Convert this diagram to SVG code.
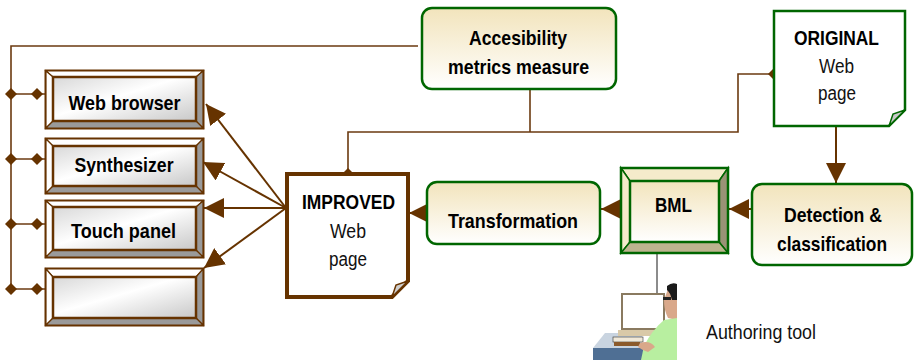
<svg xmlns="http://www.w3.org/2000/svg" width="914" height="360" viewBox="0 0 914 360">
  <defs>
    <linearGradient id="cream" x1="0" y1="0" x2="0" y2="1">
      <stop offset="0" stop-color="#F2E4BC"/>
      <stop offset="1" stop-color="#FFFFFF"/>
    </linearGradient>
    <linearGradient id="silver" x1="0" y1="0" x2="1" y2="1">
      <stop offset="0" stop-color="#D8D8D8"/>
      <stop offset="0.45" stop-color="#FFFFFF"/>
      <stop offset="1" stop-color="#C8C8C8"/>
    </linearGradient>
    <marker id="arrow" viewBox="0 0 20 20" refX="20" refY="10" markerWidth="20" markerHeight="20" markerUnits="userSpaceOnUse" orient="auto">
      <path d="M0,0 L20,10 L0,20 Z" fill="#663300"/>
    </marker>
    <path id="diamond" d="M0,-6 L6,0 L0,6 L-6,0 Z" fill="#663300"/>
  </defs>
  <style>
    .bold { font-family: "Liberation Sans", Arial, sans-serif; font-weight: bold; font-size: 21px; fill: #000; }
    .reg { font-family: "Liberation Sans", Arial, sans-serif; font-size: 20px; fill: #111; }
    .round { fill: url(#cream); stroke: #006600; stroke-width: 2.5; }
    .dev-outer { fill: none; stroke: #663300; stroke-width: 3; }
    .dev-inner { fill: url(#silver); stroke: #663300; stroke-width: 2.5; }
    .bevel-light { fill: #FFFFFF; stroke: #663300; stroke-width: 1.2; }
    .bevel-dark { fill: #9A9A9A; stroke: #663300; stroke-width: 1.2; }
    .wire { fill: none; stroke: #6B3A10; stroke-width: 1.6; }
    .flow { fill: none; stroke: #663300; stroke-width: 2; marker-end: url(#arrow); }
  </style>

  <!-- connectors -->
  <g id="connectors">
    <!-- control bus on the left -->
    <polyline class="wire" points="418,46 11,46 11,289"/>
    <line class="wire" x1="11" y1="94" x2="45" y2="94"/>
    <line class="wire" x1="11" y1="159" x2="45" y2="159"/>
    <line class="wire" x1="11" y1="224" x2="45" y2="224"/>
    <line class="wire" x1="11" y1="289" x2="45" y2="289"/>
    <use href="#diamond" x="11" y="94"/><use href="#diamond" x="37" y="94"/>
    <use href="#diamond" x="11" y="159"/><use href="#diamond" x="37" y="159"/>
    <use href="#diamond" x="11" y="224"/><use href="#diamond" x="37" y="224"/>
    <use href="#diamond" x="11" y="289"/><use href="#diamond" x="37" y="289"/>
    <!-- metrics link between pages -->
    <polyline class="wire" points="348,174 348,132 738,132 738,74 774,74"/>
    <line class="wire" x1="530" y1="89" x2="530" y2="132"/>
    <use href="#diamond" x="348" y="174"/>
    <use href="#diamond" x="774" y="74"/>
    <!-- output fan to devices -->
    <line class="flow" x1="286" y1="208" x2="206" y2="104"/>
    <line class="flow" x1="286" y1="208" x2="203" y2="162"/>
    <line class="flow" x1="286" y1="208" x2="204" y2="208"/>
    <line class="flow" x1="286" y1="208" x2="204" y2="268"/>
    <!-- processing chain -->
    <line class="flow" x1="836" y1="127" x2="836" y2="183"/>
    <line class="flow" x1="752" y1="209" x2="729" y2="209"/>
    <line class="flow" x1="621" y1="209" x2="601" y2="209"/>
    <line class="flow" x1="427" y1="213" x2="409" y2="213"/>
    <!-- authoring tool link -->
    <line x1="657" y1="253" x2="657" y2="294" stroke="#666" stroke-width="1.5"/>
  </g>

  <!-- output devices -->
  <g id="web-browser">
    <rect class="dev-outer" x="46" y="71" width="157" height="57"/>
    <polygon class="bevel-light" points="46,71 203,71 196,77 53,77"/>
    <polygon class="bevel-light" points="46,71 53,77 53,121 46,128"/>
    <polygon class="bevel-dark" points="203,71 203,128 196,121 196,77"/>
    <polygon class="bevel-dark" points="46,128 53,121 196,121 203,128"/>
    <rect class="dev-inner" x="53" y="77" width="143" height="44"/>
    <text class="bold" x="124.5" y="110" text-anchor="middle" textLength="112" lengthAdjust="spacingAndGlyphs">Web browser</text>
  </g>
  <g id="synthesizer">
    <rect class="dev-outer" x="46" y="139" width="157" height="54"/>
    <polygon class="bevel-light" points="46,139 203,139 196,146 53,146"/>
    <polygon class="bevel-light" points="46,139 53,146 53,186 46,193"/>
    <polygon class="bevel-dark" points="203,139 203,193 196,186 196,146"/>
    <polygon class="bevel-dark" points="46,193 53,186 196,186 203,193"/>
    <rect class="dev-inner" x="53" y="146" width="143" height="40"/>
    <text class="bold" x="124" y="172" text-anchor="middle" textLength="99" lengthAdjust="spacingAndGlyphs">Synthesizer</text>
  </g>
  <g id="touch-panel">
    <rect class="dev-outer" x="46" y="201" width="157" height="56"/>
    <polygon class="bevel-light" points="46,201 203,201 196,207 53,207"/>
    <polygon class="bevel-light" points="46,201 53,207 53,250 46,257"/>
    <polygon class="bevel-dark" points="203,201 203,257 196,250 196,207"/>
    <polygon class="bevel-dark" points="46,257 53,250 196,250 203,257"/>
    <rect class="dev-inner" x="53" y="207" width="143" height="43"/>
    <text class="bold" x="123.5" y="238" text-anchor="middle" textLength="105" lengthAdjust="spacingAndGlyphs">Touch panel</text>
  </g>
  <g id="device-blank">
    <rect class="dev-outer" x="46" y="269" width="157" height="56"/>
    <polygon class="bevel-light" points="46,269 203,269 196,277 53,277"/>
    <polygon class="bevel-light" points="46,269 53,277 53,318 46,325"/>
    <polygon class="bevel-dark" points="203,269 203,325 196,318 196,277"/>
    <polygon class="bevel-dark" points="46,325 53,318 196,318 203,325"/>
    <rect class="dev-inner" x="53" y="277" width="143" height="41"/>
  </g>

  <!-- improved page -->
  <g id="improved-page">
    <path d="M287,174 H408 V281 L392,297 H287 Z" fill="#FFFFFF" stroke="#663300" stroke-width="4"/>
    <polygon points="392,297 396,285 408,281" fill="#D0D0D0" stroke="#663300" stroke-width="1.5"/>
    <text class="bold" x="348.5" y="209" text-anchor="middle" textLength="93" lengthAdjust="spacingAndGlyphs">IMPROVED</text>
    <text class="reg" x="348" y="238" text-anchor="middle" textLength="36" lengthAdjust="spacingAndGlyphs">Web</text>
    <text class="reg" x="348" y="266" text-anchor="middle" textLength="38" lengthAdjust="spacingAndGlyphs">page</text>
  </g>

  <!-- metrics -->
  <g id="accessibility-metrics">
    <rect class="round" x="422" y="8" width="194" height="81" rx="10"/>
    <text class="bold" x="518" y="45" text-anchor="middle" textLength="98" lengthAdjust="spacingAndGlyphs">Accesibility</text>
    <text class="bold" x="518.5" y="74" text-anchor="middle" textLength="141" lengthAdjust="spacingAndGlyphs">metrics measure</text>
  </g>

  <!-- original page -->
  <g id="original-page">
    <path d="M774,11 H905 V110 L889,126 H774 Z" fill="#FFFFFF" stroke="#006600" stroke-width="2.5"/>
    <polygon points="889,126 893,114 905,110" fill="#C8C8C8" stroke="#006600" stroke-width="1.5"/>
    <text class="bold" x="836.5" y="45" text-anchor="middle" textLength="85" lengthAdjust="spacingAndGlyphs">ORIGINAL</text>
    <text class="reg" x="836.5" y="73" text-anchor="middle" textLength="35" lengthAdjust="spacingAndGlyphs">Web</text>
    <text class="reg" x="837" y="100" text-anchor="middle" textLength="38" lengthAdjust="spacingAndGlyphs">page</text>
  </g>

  <!-- detection -->
  <g id="detection">
    <rect class="round" x="752" y="184" width="160" height="81" rx="10"/>
    <text class="bold" x="833" y="222" text-anchor="middle" textLength="98" lengthAdjust="spacingAndGlyphs">Detection &amp;</text>
    <text class="bold" x="832" y="251" text-anchor="middle" textLength="110" lengthAdjust="spacingAndGlyphs">classification</text>
  </g>

  <!-- BML -->
  <g id="bml">
    <polygon points="621,168 728,168 719,181 630,181" fill="#F5EBCB" stroke="#006600" stroke-width="1.5"/>
    <polygon points="621,168 630,181 630,242 621,253" fill="#F5EBCB" stroke="#006600" stroke-width="1.5"/>
    <polygon points="728,168 728,253 719,242 719,181" fill="#9A9376" stroke="#006600" stroke-width="1.5"/>
    <polygon points="621,253 630,242 719,242 728,253" fill="#BDB48F" stroke="#006600" stroke-width="1.5"/>
    <rect x="621" y="168" width="107" height="85" fill="none" stroke="#006600" stroke-width="2.5"/>
    <rect x="630" y="181" width="89" height="61" fill="url(#cream)" stroke="#006600" stroke-width="2.5"/>
    <text class="bold" x="673.5" y="212" text-anchor="middle" textLength="37" lengthAdjust="spacingAndGlyphs">BML</text>
  </g>

  <!-- transformation -->
  <g id="transformation">
    <rect class="round" x="427" y="182" width="173" height="62" rx="10"/>
    <text class="bold" x="513" y="228" text-anchor="middle" textLength="130" lengthAdjust="spacingAndGlyphs">Transformation</text>
  </g>

  <!-- authoring tool: user at a workstation -->
  <g id="authoring-tool">
    <!-- desk -->
    <polygon points="593,348 605,333 642,333 642,360 593,360" fill="#C9D4E0"/>
    <rect x="593" y="348" width="50" height="12" fill="#4F6F94"/>
    <!-- monitor -->
    <rect x="621" y="293" width="44" height="38" fill="#8A7A60"/>
    <rect x="623" y="295" width="40" height="33" fill="#FFFFFF"/>
    <rect x="618" y="330" width="50" height="6" fill="#D9C9A8"/>
    <!-- keyboard -->
    <rect x="613" y="337" width="30" height="5" fill="#F0E8D8" stroke="#333" stroke-width="0.6"/>
    <rect x="614" y="342" width="26" height="4" fill="#8B5A2B"/>
    <!-- person -->
    <path d="M668,289 Q672,284 677,285 L677,320 L668,318 Q664,310 664,300 Z" fill="#D9A88A"/>
    <path d="M667,286 Q672,282 677,284 L677,300 L672,300 Q670,292 667,290 Z" fill="#1A1A1A"/>
    <rect x="663" y="297" width="8" height="3" fill="#222"/>
    <path d="M677,318 L677,360 L641,360 L644,346 Q652,330 664,320 Z" fill="#B8EFA0"/>
    <path d="M640,343 Q650,340 655,347 L648,352 Q642,350 638,347 Z" fill="#D9A88A"/>
  </g>
  <text class="reg" x="706" y="339" textLength="110" lengthAdjust="spacingAndGlyphs">Authoring tool</text>
</svg>
